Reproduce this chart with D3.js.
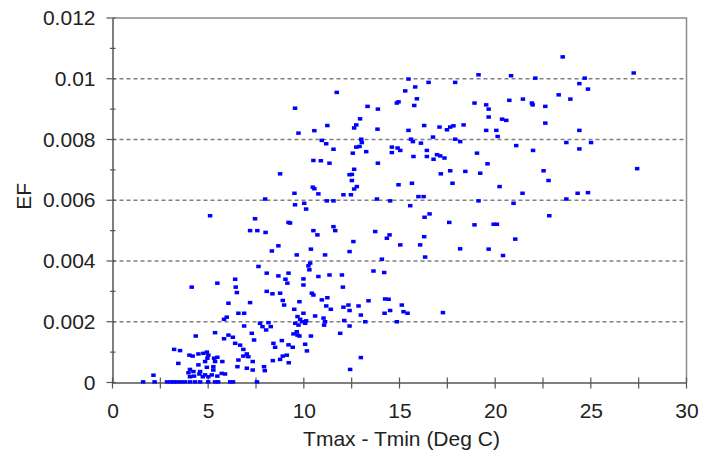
<!DOCTYPE html>
<html>
<head>
<meta charset="utf-8">
<script src="https://cdn.jsdelivr.net/npm/d3@7/dist/d3.min.js"></script>
<style>
  html, body { margin: 0; padding: 0; background: #fff; }
  svg { display: block; }
  text { font-family: "Liberation Sans", Arial, sans-serif; fill: #222; }
</style>
</head>
<body>
<svg id="chart" width="702" height="455"></svg>
<script>
// Daily temperature range (deg C) against EF, one pair per observation
const samples = [
  [8.76,0.00687],[7.98,0.00604],[5.10,0.00549],[7.45,0.00539],[9.20,0.00527],[7.19,0.00500],[7.57,0.00500],[8.00,0.00494],
  [8.67,0.00450],[8.33,0.00433],[9.63,0.00420],[7.63,0.00382],[8.06,0.00360],[8.67,0.00351],[9.20,0.00360],[9.04,0.00340],
  [9.14,0.00327],[4.14,0.00314],[5.48,0.00327],[6.41,0.00340],[6.44,0.00314],[6.50,0.00296],[8.06,0.00300],[8.36,0.00292],
  [8.76,0.00294],[8.90,0.00270],[8.97,0.00255],[9.77,0.00266],[9.50,0.00241],[6.06,0.00261],[5.97,0.00215],[5.83,0.00208],
  [6.58,0.00228],[6.88,0.00228],[7.19,0.00263],[6.88,0.00186],[7.71,0.00195],[7.84,0.00184],[8.15,0.00197],[8.27,0.00184],
  [8.03,0.00173],[4.35,0.00153],[5.36,0.00164],[5.83,0.00144],[6.06,0.00156],[6.29,0.00149],[6.41,0.00129],[6.67,0.00123],
  [6.84,0.00109],[7.02,0.00094],[7.28,0.00162],[7.40,0.00140],[8.41,0.00129],[8.50,0.00116],[8.85,0.00138],[9.20,0.00124],
  [9.46,0.00160],[9.42,0.00116],[3.22,0.00109],[3.53,0.00105],[4.02,0.00090],[4.19,0.00087],[4.49,0.00094],[4.75,0.00096],
  [4.93,0.00100],[3.44,0.00063],[4.49,0.00058],[4.96,0.00080],[5.01,0.00090],[5.31,0.00080],[5.48,0.00083],[5.36,0.00069],
  [4.93,0.00050],[5.27,0.00052],[4.05,0.00043],[3.97,0.00032],[4.05,0.00019],[4.26,0.00021],[4.54,0.00028],[4.72,0.00019],
  [5.01,0.00019],[5.19,0.00025],[5.48,0.00021],[5.71,0.00030],[5.88,0.00028],[6.53,0.00052],[7.02,0.00047],[7.33,0.00041],
  [6.58,0.00074],[7.33,0.00069],[7.92,0.00052],[7.96,0.00039],[8.38,0.00072],[8.76,0.00076],[8.90,0.00087],[9.11,0.00090],
  [9.21,0.00065],[2.14,0.00024],[5.74,0.00069],[4.84,0.00069],[4.84,0.00025],[4.23,0.00036],[4.58,0.00036],[5.27,0.00041],
  [6.84,0.00087],[7.10,0.00085],
  [1.60,0.00002],[2.20,0.00002],[2.85,0.00002],[3.05,0.00002],[3.20,0.00002],[3.37,0.00002],[3.58,0.00002],[3.79,0.00002],
  [4.05,0.00002],[4.31,0.00002],[4.58,0.00002],[5.00,0.00002],[5.36,0.00002],[5.52,0.00002],[6.15,0.00002],[6.30,0.00002],
  [7.55,0.00002],
  [10.50,0.00500],[10.71,0.00486],[11.64,0.00500],[13.73,0.00497],[14.34,0.00475],[14.48,0.00486],[16.29,0.00480],[12.59,0.00464],
  [15.04,0.00453],[16.08,0.00453],[18.17,0.00440],[19.66,0.00439],[10.37,0.00439],[11.11,0.00420],[12.39,0.00431],[14.08,0.00406],
  [16.34,0.00413],[10.33,0.00393],[10.24,0.00384],[10.29,0.00371],[13.64,0.00367],[14.20,0.00362],[10.76,0.00349],[11.34,0.00354],
  [11.99,0.00354],[9.98,0.00341],[9.98,0.00321],[12.04,0.00314],[10.42,0.00294],[10.50,0.00288],[10.94,0.00272],[11.23,0.00279],
  [11.17,0.00252],[11.41,0.00241],[12.07,0.00248],[12.33,0.00255],[12.39,0.00237],[12.86,0.00252],[13.38,0.00269],[14.25,0.00275],
  [14.43,0.00274],[15.12,0.00255],[9.98,0.00228],[9.67,0.00217],[9.81,0.00208],[10.59,0.00219],[11.03,0.00212],[11.11,0.00200],
  [12.98,0.00222],[14.22,0.00228],[14.51,0.00237],[15.21,0.00233],[15.42,0.00228],[17.27,0.00230],[9.90,0.00200],[10.07,0.00195],
  [9.55,0.00195],[9.72,0.00189],[10.12,0.00203],[11.06,0.00189],[12.11,0.00204],[12.39,0.00186],[13.21,0.00200],[14.86,0.00200],
  [9.63,0.00167],[9.67,0.00156],[9.77,0.00153],[10.37,0.00153],[11.90,0.00162],[10.07,0.00126],[10.16,0.00104],[12.98,0.00082],
  [12.42,0.00043],
  [19.13,0.01013],[15.47,0.00999],[16.52,0.00988],[17.91,0.00988],[15.82,0.00973],[15.30,0.00960],[11.72,0.00955],[15.91,0.00934],
  [14.86,0.00920],[14.95,0.00924],[15.77,0.00912],[18.92,0.00920],[19.53,0.00914],[19.66,0.00900],[9.54,0.00903],[13.33,0.00909],
  [13.87,0.00900],[12.94,0.00868],[19.66,0.00874],[12.63,0.00838],[12.74,0.00848],[11.23,0.00846],[13.85,0.00834],[10.55,0.00829],
  [9.72,0.00821],[15.47,0.00830],[16.29,0.00846],[17.09,0.00841],[17.48,0.00832],[17.65,0.00841],[17.82,0.00845],[18.35,0.00848],
  [19.53,0.00830],[13.00,0.00801],[13.03,0.00790],[10.94,0.00797],[11.17,0.00786],[11.55,0.00768],[12.74,0.00775],[12.91,0.00777],
  [13.26,0.00760],[12.56,0.00755],[14.60,0.00775],[14.60,0.00757],[14.90,0.00772],[15.04,0.00764],[15.60,0.00801],[15.70,0.00793],
  [16.12,0.00788],[16.75,0.00808],[17.91,0.00801],[18.17,0.00793],[15.73,0.00744],[16.43,0.00764],[16.43,0.00744],[16.96,0.00750],
  [17.13,0.00746],[17.35,0.00739],[16.78,0.00735],[19.05,0.00755],[10.50,0.00731],[10.89,0.00730],[11.34,0.00722],[13.87,0.00722],
  [12.63,0.00702],[12.39,0.00684],[12.51,0.00685],[12.51,0.00665],[12.77,0.00645],[12.63,0.00637],[14.95,0.00651],[15.65,0.00656],
  [17.16,0.00687],[17.65,0.00697],[18.44,0.00695],[17.77,0.00656],[19.22,0.00689],[10.47,0.00643],[10.55,0.00638],[9.51,0.00623],
  [9.54,0.00585],[10.76,0.00621],[12.07,0.00618],[12.46,0.00618],[13.82,0.00604],[15.99,0.00612],[16.26,0.00612],[15.56,0.00582],
  [19.13,0.00598],[10.02,0.00590],[10.12,0.00571],[11.20,0.00598],[11.55,0.00598],[14.51,0.00598],[9.28,0.00525],[16.31,0.00544],
  [16.57,0.00555],[17.60,0.00527],[18.92,0.00519],[11.55,0.00513],
  [23.53,0.01072],[27.24,0.01019],[20.83,0.01010],[22.10,0.01002],[24.68,0.01002],[24.40,0.00984],[24.85,0.00966],[23.32,0.00947],
  [23.93,0.00933],[21.45,0.00933],[20.74,0.00929],[21.92,0.00920],[21.96,0.00914],[22.62,0.00909],[20.36,0.00867],[20.58,0.00863],
  [22.62,0.00854],[20.06,0.00830],[20.13,0.00810],[24.40,0.00830],[21.10,0.00780],[21.98,0.00764],[23.72,0.00790],[24.40,0.00769],
  [25.01,0.00790],[19.60,0.00720],[22.53,0.00697],[22.79,0.00665],[27.42,0.00704],[20.23,0.00645],[21.43,0.00623],[24.31,0.00623],
  [24.85,0.00625],[23.72,0.00604],[20.96,0.00590],[22.83,0.00549],[19.92,0.00521],[20.09,0.00521],[21.05,0.00472],[20.41,0.00418]
];

const xTicks = [0, 5, 10, 15, 20, 25, 30];
const xMinorTicks = [2.5, 7.5, 12.5, 17.5, 22.5, 27.5];
const yTicks = [0, 0.002, 0.004, 0.006, 0.008, 0.01, 0.012];
const yTickLabels = ["0", "0.002", "0.004", "0.006", "0.008", "0.01", "0.012"];
const yMinorTicks = [0.001, 0.003, 0.005, 0.007, 0.009, 0.011];
const gridValues = [0.002, 0.004, 0.006, 0.008, 0.01];

const svg = d3.select("#chart");
const plotLeft = 112.5, plotRight = 686.5, plotTop = 18, plotBottom = 382.5;
const labelFont = "'Liberation Sans', Arial, sans-serif";

const x = d3.scaleLinear().domain([0, 30]).range([plotLeft, plotRight]);
const y = d3.scaleLinear().domain([0, 0.012]).range([plotBottom, plotTop]);

// dashed horizontal gridlines
svg.append("g").selectAll("line").data(gridValues).join("line")
  .attr("x1", plotLeft).attr("x2", plotRight)
  .attr("y1", d => y(d)).attr("y2", d => y(d))
  .attr("stroke", "#808080").attr("stroke-width", 1.3)
  .attr("stroke-dasharray", "4,3");

// frame: top and right edges
svg.append("path")
  .attr("d", `M${plotLeft},${plotTop}H${plotRight}V${plotBottom}`)
  .attr("fill", "none").attr("stroke", "#8a8a8a").attr("stroke-width", 1.5);

// y axis with crossing ticks
const yAxis = svg.append("g").attr("transform", `translate(${plotLeft},0)`)
  .call(d3.axisLeft(y).tickValues(yTicks).tickSize(0).tickPadding(17)
    .tickFormat((d, i) => yTickLabels[i]));
yAxis.select(".domain").attr("stroke", "#555").attr("stroke-width", 1.5);
yAxis.selectAll("text").style("font-size", "21px").attr("fill", "#222")
  .style("font-family", labelFont);

svg.append("g").selectAll("line").data(yTicks).join("line")
  .attr("x1", plotLeft - 6).attr("x2", plotLeft + 3)
  .attr("y1", d => y(d)).attr("y2", d => y(d))
  .attr("stroke", "#555").attr("stroke-width", 1.2);
svg.append("g").selectAll("line").data(yMinorTicks).join("line")
  .attr("x1", plotLeft - 2.5).attr("x2", plotLeft + 3)
  .attr("y1", d => y(d)).attr("y2", d => y(d))
  .attr("stroke", "#555").attr("stroke-width", 1.2);

// x axis with crossing ticks
const xAxis = svg.append("g").attr("transform", `translate(0,${plotBottom})`)
  .call(d3.axisBottom(x).tickValues(xTicks).tickSize(0).tickPadding(21)
    .tickFormat(d3.format("d")));
xAxis.select(".domain").attr("stroke", "#555").attr("stroke-width", 1.5);
xAxis.selectAll("text").style("font-size", "21px").attr("fill", "#222")
  .style("font-family", labelFont);

svg.append("g").selectAll("line").data(xTicks.concat(xMinorTicks)).join("line")
  .attr("x1", d => x(d)).attr("x2", d => x(d))
  .attr("y1", plotBottom - 5).attr("y2", plotBottom + 6)
  .attr("stroke", "#555").attr("stroke-width", 1.2);

// observations
svg.append("g").selectAll("rect").data(samples).join("rect")
  .attr("x", d => x(d[0]) - 2.25)
  .attr("y", d => y(d[1]) - 1.75)
  .attr("width", 4.5).attr("height", 3.5)
  .attr("fill", "#0000ff");

// axis titles
svg.append("text")
  .attr("x", (plotLeft + plotRight) / 2 + 2).attr("y", 446)
  .attr("text-anchor", "middle")
  .style("font-size", "21px")
  .text("Tmax - Tmin (Deg C)");

svg.append("text")
  .attr("transform", `translate(31,${(plotTop + plotBottom) / 2 - 4}) rotate(-90)`)
  .attr("text-anchor", "middle")
  .style("font-size", "21px")
  .text("EF");
</script>
</body>
</html>
